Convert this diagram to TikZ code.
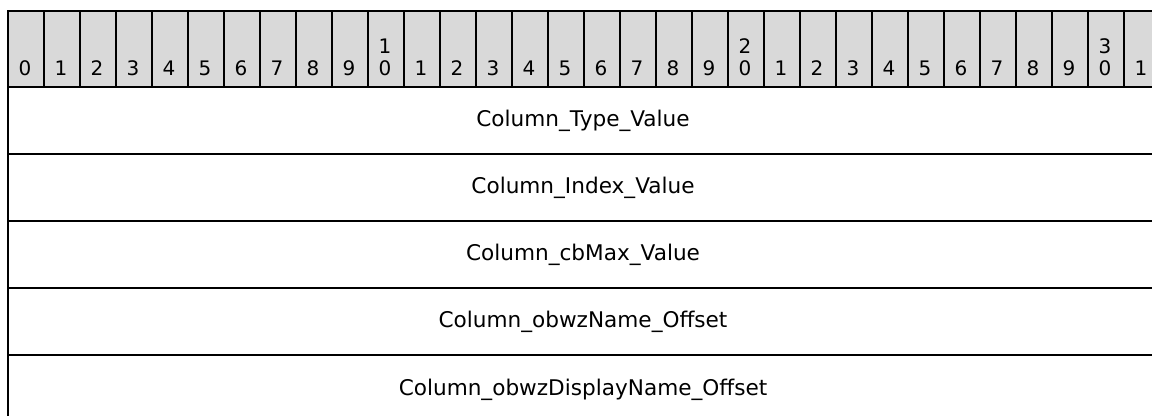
\documentclass[tikz,border=0pt]{standalone}
\usepackage{fontspec}
\setmainfont{DejaVu Sans}
\definecolor{hdrgray}{HTML}{D9D9D9}
\begin{document}
\begin{tikzpicture}[x=0.75pt,y=-0.75pt,
  hdrcell/.style={draw=black,fill=hdrgray,line width=1.5pt,minimum width=27pt,minimum height=57pt,inner sep=0pt,anchor=north west},
  rowcell/.style={draw=black,line width=1.5pt,minimum width=864pt,minimum height=50.25pt,inner sep=0pt,anchor=north west},
  digit/.style={font=\fontsize{15}{18}\selectfont,inner sep=0pt,anchor=base},
  rowlabel/.style={font=\fontsize{16.2}{19}\selectfont,inner sep=0pt,anchor=base}]
\useasboundingbox (0,0) rectangle (1152,416);
\clip (0,0) rectangle (1152,416);
\fill[white] (0,0) rectangle (1152,416);
% header cells
\foreach \i in {0,...,31}{
  \node[hdrcell] (h\i) at ({7+36*\i},10) {};
}
% header digits
\foreach \i in {0,...,31}{
  \pgfmathtruncatemacro{\u}{mod(\i,10)}
  \node[digit] (d\i) at ({25+36*\i},76) {\u};
}
\foreach \i/\t in {10/1,20/2,30/3}{
  \node[digit] (t\i) at ({25+36*\i},54) {\t};
}
% rows
\node[rowcell] (r1) at (7,86) {};
\node[rowcell] (r2) at (7,153) {};
\node[rowcell] (r3) at (7,220) {};
\node[rowcell] (r4) at (7,287) {};
\node[rowcell] (r5) at (7,354) {};
\node[rowlabel] (l1) at (583,127) {Column\_Type\_Value};
\node[rowlabel] (l2) at (583,194) {Column\_Index\_Value};
\node[rowlabel] (l3) at (583,261) {Column\_cbMax\_Value};
\node[rowlabel] (l4) at (583,328) {Column\_obwzName\_Offset};
\node[rowlabel] (l5) at (583,395) {Column\_obwzDisplayName\_Offset};
\end{tikzpicture}
\end{document}
